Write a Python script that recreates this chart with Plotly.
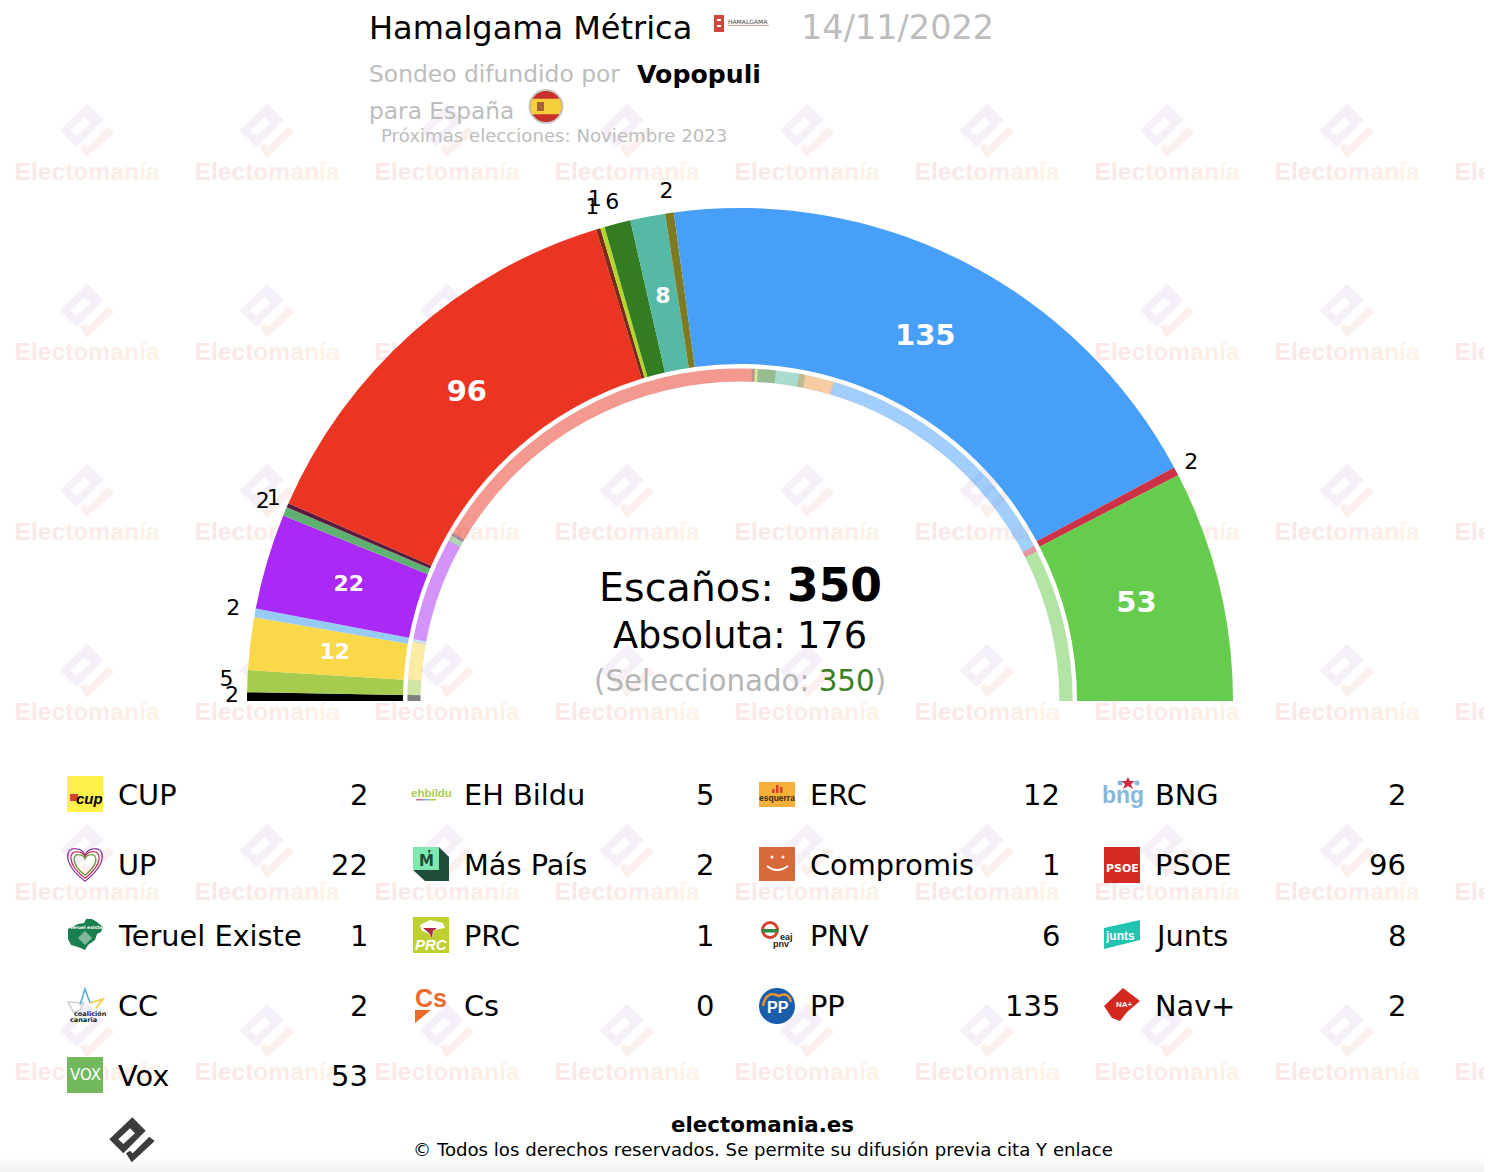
import numpy as np
import plotly.graph_objects as go

W, H = 1498, 1172
FONT = "DejaVu Sans"
GREY = "#BDBDBD"

parties = ["CUP", "EH Bildu", "ERC", "BNG", "UP", "Más País", "Compromis", "PSOE", "Teruel Existe",
           "PRC", "PNV", "Junts", "CC", "Cs", "PP", "Nav+", "Vox"]
seats = [2, 5, 12, 2, 22, 2, 1, 96, 1, 1, 6, 8, 2, 0, 135, 2, 53]
prev_seats = [2, 5, 13, 1, 35, 2, 1, 120, 1, 1, 6, 8, 2, 10, 89, 2, 52]
colors = ["#000000", "#A5CC4E", "#F9D84A", "#97CBF7", "#A92AF5", "#5FB172", "#5B1A3E", "#EB3523", "#7B2A17",
          "#B3D62F", "#347C22", "#55B9A5", "#7E7A22", "#F09A4A", "#479FF9", "#CC3146", "#66CC4D"]

# radii in pixels, the polar subplot is sized so that 1 unit is 1 px
R_MAX = 560
R_OUT, R_IN = 493, 337
RING_OUT, RING_IN = 332.5, 319.5
CX, CY = 740, 701
label_r = {"CUP": 508, "EH Bildu": 514, "BNG": 515, "Más País": 517, "Compromis": 508, "Teruel Existe": 514,
           "PRC": 521, "PNV": 514, "CC": 514, "Nav+": 510, "PSOE": 411, "Junts": 411}


def arc_positions(values):
    values = np.array(values, dtype=float)
    deg = values * 180 / values.sum()
    return np.cumsum(deg) - deg / 2, deg


fig = go.Figure()

# watermark, sits on the cartesian layer so the polar bars cover it
wm_x = [87 + 180 * i for i in range(9) for j in range(7)]
wm_y = [-6 + 180 * j for i in range(9) for j in range(7)]
wm_text = ('<b><span style="color:#FAE8E7">Elec</span><span style="color:#FBEBE6">tom</span>'
           '<span style="color:#FCEEE6">an</span><span style="color:#FDF2E6">ía</span></b>')
fig.add_trace(go.Scatter(x=wm_x, y=wm_y, mode="text", text=[wm_text] * len(wm_x), hoverinfo="skip",
                         textfont=dict(family="Liberation Sans", size=24.6), showlegend=False))

theta, width = arc_positions(seats)
fig.add_trace(go.Barpolar(theta=theta, width=width, r=[R_OUT - R_IN] * len(seats), base=R_IN,
                          marker=dict(color=colors, line=dict(width=0)), hoverinfo="skip", showlegend=False))

theta_prev, width_prev = arc_positions(prev_seats)
fig.add_trace(go.Barpolar(theta=theta_prev, width=width_prev, r=[RING_OUT - RING_IN] * len(seats), base=RING_IN,
                          marker=dict(color=colors, opacity=0.5, line=dict(width=0.6, color="rgba(0,0,0,0.12)")),
                          hoverinfo="skip", showlegend=False))

# seat numbers: big parties inside in white, small ones outside in black
lbl_r, lbl_theta, lbl_txt, lbl_col, lbl_size = [], [], [], [], []
for p, s, t in zip(parties, seats, theta):
    if s == 0:
        continue
    big = s >= 8
    lbl_r.append(label_r.get(p, 408 if big else 516))
    lbl_theta.append(t)
    lbl_txt.append(f"<b>{s}</b>" if big else str(s))
    lbl_col.append("white" if big else "black")
    lbl_size.append(29 if s >= 50 else 22)
fig.add_trace(go.Scatterpolar(r=lbl_r, theta=lbl_theta, text=lbl_txt, mode="text", cliponaxis=False,
                              textfont=dict(family=FONT, color=lbl_col, size=lbl_size),
                              hoverinfo="skip", showlegend=False))

annotations = []
shapes = []


def label(x, y, text, size, color="black", anchor="left", family=FONT):
    annotations.append(dict(x=x, y=y, xref="x", yref="y", text=text, showarrow=False, xanchor=anchor,
                            yanchor="middle", font=dict(family=family, size=size, color=color),
                            borderpad=0, borderwidth=0))


def poly(points, fill, line=None, lw=1, layer="above", cx=0, cy=0, scale=1, close=True):
    d = "M" + " L".join(f"{cx + a * scale:.2f},{cy + b * scale:.2f}" for a, b in points)
    shapes.append(dict(type="path", path=d + (" Z" if close else ""), xref="x", yref="y", fillcolor=fill,
                       layer=layer, line=dict(width=lw if line else 0, color=line or "rgba(0,0,0,0)")))


def box(x0, y0, x1, y1, fill, layer="above"):
    shapes.append(dict(type="rect", x0=x0, y0=y0, x1=x1, y1=y1, xref="x", yref="y", fillcolor=fill,
                       layer=layer, line=dict(width=0)))


def disc(x, y, r, fill):
    shapes.append(dict(type="circle", x0=x - r, y0=y - r, x1=x + r, y1=y + r, xref="x", yref="y",
                       fillcolor=fill, line=dict(width=0)))


BODY = [(0.3, -22.7), (13.7, -9.3), (-8.7, 13.3), (-22.7, -0.7)]
SLOT = [(-13.7, -0.7), (-2, -11.7), (3, -6.7), (-8.7, 4)]
CHECK = [(-6, 13.3), (-2, 10.7), (0.7, 13.3), (17.3, -3.3), (22.7, 1), (-0.3, 22.3)]


def brand_mark(cx, cy, scale, body, check, layer):
    d = ""
    for pts in (BODY, SLOT):
        d += "M" + " L".join(f"{cx + a * scale:.2f},{cy + b * scale:.2f}" for a, b in pts) + " Z "
    shapes.append(dict(type="path", path=d, xref="x", yref="y", fillcolor=body, fillrule="evenodd",
                       layer=layer, line=dict(width=0)))
    poly(CHECK, check, layer=layer, cx=cx, cy=cy, scale=scale)


for i in range(8):
    for j in range(6):
        brand_mark(87 + 180 * i, 131 + 180 * j, 1.2, "#F4EFF8", "#FCF0EC", "below")
brand_mark(132, 1140, 1, "#3C3C3C", "#3C3C3C", "above")

# soft grey fade along the bottom edge
for k in range(8):
    box(0, 1158 + k * 2, W, 1172, "rgba(120,120,120,0.012)", "below")

# header
label(369, 27.5, "Hamalgama Métrica", 32)
label(801, 27.5, "14/11/2022", 33.5, GREY)
label(369, 74, "Sondeo difundido por", 23.4, GREY)
label(637, 74, "<b>Vopopuli</b>", 25.2)
label(369, 110, "para España", 23.3, GREY)
label(381, 135, "Próximas elecciones: Noviembre 2023", 18.15, GREY)

# pollster mark
box(714, 15, 724, 32, "#D0483A")
box(717, 19, 721, 21, "white")
box(717, 25, 721, 27, "white")
label(728, 21, "HAMALGAMA", 6, "#444444")
box(728, 25, 769, 25.6, "#D0483A")

# flag
disc(546, 106.5, 17.5, "#C9C9C9")
disc(546, 106.5, 15.5, "#C8302C")
ang = np.linspace(-0.52, 0.52, 15)
band = [(15.5 * np.cos(a), 15.5 * np.sin(a)) for a in ang] + [(-15.5 * np.cos(a), 15.5 * np.sin(-a)) for a in ang]
poly(band, "#F6CF3C", cx=546, cy=106.5)
box(537, 102, 544, 111, "#A8623C")

# centre text
label(599, 587, "Escaños:", 39.6)
label(787, 585, "<b>350</b>", 45.5)
label(613, 635, "Absoluta:", 36.7)
label(867, 635, "176", 36.7, anchor="right")
label(594, 681, '(Seleccionado: <span style="color:#3A7D22">350</span>)', 29.3, "#B5B5B5")

# legend
for i, (p, s) in enumerate(zip(parties, seats)):
    col, row = i % 4, i // 4
    y = [795, 865, 936, 1006, 1076][row]
    label([117.5, 463.5, 809.5, 1154.5][col], y, p, 28.8)
    label([368, 714, 1060, 1406][col], y, str(s), 29, anchor="right")

# party logos, simplified
box(67, 776, 103, 812, "#FFF14A")
label(89, 798, "<b><i>cup</i></b>", 15, anchor="center", family="Liberation Sans")
box(70, 794, 78, 801, "#D8412C")


def heart(cx, cy, s, color):
    d = (f"M{cx},{cy + 15 * s} C{cx - 22 * s},{cy - 2 * s} {cx - 18 * s},{cy - 17 * s} {cx - 8 * s},{cy - 15 * s} "
         f"C{cx - 4 * s},{cy - 15 * s} {cx - 1 * s},{cy - 12 * s} {cx},{cy - 9 * s} "
         f"C{cx + 1 * s},{cy - 12 * s} {cx + 4 * s},{cy - 15 * s} {cx + 8 * s},{cy - 15 * s} "
         f"C{cx + 18 * s},{cy - 17 * s} {cx + 22 * s},{cy - 2 * s} {cx},{cy + 15 * s} Z")
    shapes.append(dict(type="path", path=d, xref="x", yref="y", fillcolor="rgba(0,0,0,0)",
                       line=dict(width=1.3, color=color)))


heart(85, 865, 1.08, "#8E3A9C")
heart(85, 865, 0.88, "#C4305E")
heart(85, 865, 0.68, "#6C9A3C")

poly([(68, 929), (78, 924), (84, 923), (86, 919), (92, 919), (97, 922), (103, 927), (101, 932), (97, 934), (95, 940),
      (88, 945), (85, 950), (78, 947), (71, 945), (68, 939)], "#1A7F4E")
label(86, 927, "<b>Teruel existe</b>", 4.5, "white", anchor="center")
poly([(85, 931), (92, 938), (85, 945), (78, 938)], "rgba(255,255,255,0.45)")

poly([(68, 1002), (84, 1003), (80, 1010), (74, 1013)], "rgba(0,0,0,0)", "#CFCFCF", 1.6)
poly([(80, 1005), (85, 989), (90, 1003)], "rgba(0,0,0,0)", "#58AEDD", 1.6, close=False)
poly([(90, 1003), (103, 999), (96, 1008)], "rgba(0,0,0,0)", "#F4C93F", 1.6, close=False)
label(90, 1014, "<b>coalición</b>", 6.5, "#222222", anchor="center")
label(83, 1020, "<b>canaria</b>", 6.5, "#222222", anchor="center")

box(67, 1057, 103, 1093, "#72B85C")
label(85, 1075, "VOX", 15, "white", anchor="center")

label(431, 793, "<b>ehbildu</b>", 11.5, "#A9CC55", anchor="center", family="Liberation Sans")
box(416, 799, 423, 800.5, "#D86AA8")
box(423, 799, 429, 800.5, "#6FB8D8")
box(429, 799, 436, 800.5, "#A9CC55")

poly([(413, 847), (439, 847), (449, 857), (449, 881), (425, 881), (413, 870)], "#1F4D3A")
box(413, 847, 439, 870, "#7FE8B0")
label(426, 861, "<b>M</b>", 15, "#1F4D3A", anchor="center")
poly([(428, 850), (431, 850), (429, 854)], "#1F4D3A")

box(413, 917, 449, 953, "#BFD035")
poly([(420, 925), (430, 920), (443, 923), (445, 928), (434, 930), (432, 938), (428, 933), (422, 931)], "white")
poly([(423, 928), (437, 928), (433, 931), (432, 938), (429, 933)], "#B02A45")
label(431, 944, "<b><i>PRC</i></b>", 15, "white", anchor="center", family="Liberation Sans")

label(431, 998, "<b>Cs</b>", 25, "#EE6A2C", anchor="center", family="Liberation Sans")
poly([(415, 1010), (431, 1010), (415, 1023)], "#EE6A2C")

box(759, 782, 795, 807, "#F6B03C")
label(777, 798, "<b>esquerra</b>", 8.5, "#3B2A15", anchor="center", family="Liberation Sans")
for bx, by in [(772, 789), (776, 785), (780, 787)]:
    box(bx, by, bx + 2.5, 793, "#D8412C")

box(759, 847, 795, 881, "#D8693A")
disc(772, 857, 1.5, "white")
disc(783, 857, 1.5, "white")
shapes.append(dict(type="path", path="M767,866 Q777,874 788,866", xref="x", yref="y",
                   line=dict(width=2, color="white"), fillcolor="rgba(0,0,0,0)"))

disc(770, 930, 9, "#D8412C")
disc(770, 930, 6, "white")
box(762, 929, 778, 932.5, "#2B8C4A")
label(786, 937, "<b>eaj</b>", 9, "#222222", anchor="center", family="Liberation Sans")
label(781, 944, "<b>pnv</b>", 9, "#222222", anchor="center", family="Liberation Sans")

disc(777, 1006, 18, "#1A5DAB")
shapes.append(dict(type="path", path="M763,1006 Q766,990 779,996 Q788,991 791,1002", xref="x", yref="y",
                   line=dict(width=2.5, color="#F0932B"), fillcolor="rgba(0,0,0,0)"))
label(778, 1007, "<b>PP</b>", 16, "white", anchor="center", family="Liberation Sans")

label(1123, 795, "<b>bng</b>", 23, "#86B8DE", anchor="center", family="Liberation Sans")
disc(1120, 783, 2.5, "#86B8DE")
disc(1137, 783, 2.5, "#86B8DE")
poly([(1128, 777), (1130, 781), (1135, 781), (1131, 784), (1133, 789), (1128, 786), (1123, 789), (1125, 784),
      (1121, 781), (1126, 781)], "#CF2B45")

box(1104, 847, 1140, 883, "#D62B22")
label(1122, 868, "<b>PSOE</b>", 11, "white", anchor="center")

poly([(1104, 928), (1140, 920), (1140, 940), (1104, 949)], "#21C4AE")
label(1120, 936, "<b>junts</b>", 12, "white", anchor="center", family="Liberation Sans")

poly([(1104, 1006), (1123, 988), (1140, 1001), (1127, 1012), (1120, 1021), (1112, 1018)], "#D3281F")
label(1124, 1004, "<b>NA+</b>", 8, "white", anchor="center", family="Liberation Sans")

# footer
label(762.5, 1124, "<b>electomania.es</b>", 21.4, anchor="center")
label(763, 1149, "© Todos los derechos reservados. Se permite su difusión previa cita Y enlace", 18.15, anchor="center")

fig.update_layout(
    width=W, height=H, margin=dict(l=0, r=0, t=0, b=0), paper_bgcolor="white", plot_bgcolor="rgba(0,0,0,0)",
    xaxis=dict(domain=[0, 1484 / W], range=[0, 1484], visible=False, fixedrange=True),
    yaxis=dict(domain=[0, 1], range=[H, 0], visible=False, fixedrange=True),
    polar=dict(
        domain=dict(x=[(CX - R_MAX) / W, (CX + R_MAX) / W], y=[(H - CY) / H, (H - CY + R_MAX) / H]),
        sector=[0, 180], hole=0, bgcolor="rgba(0,0,0,0)",
        radialaxis=dict(range=[0, R_MAX], visible=False),
        angularaxis=dict(direction="clockwise", rotation=180, visible=False, thetaunit="degrees"),
        barmode="overlay",
    ),
    annotations=annotations, shapes=shapes, showlegend=False,
)

fig.write_html("out.html", config={"displayModeBar": False},
               post_script="document.body.style.margin='0';document.body.style.overflow='hidden';")
